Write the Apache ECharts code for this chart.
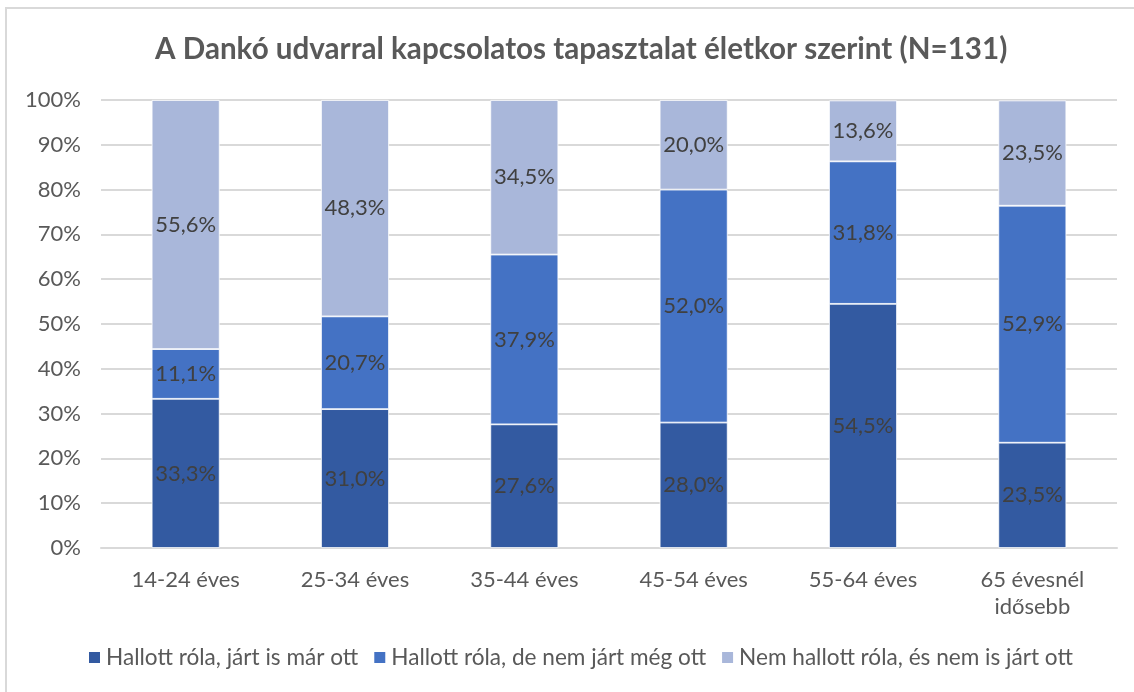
<!DOCTYPE html>
<html>
<head>
<meta charset="utf-8">
<script src="https://cdn.jsdelivr.net/npm/echarts@6/dist/echarts.min.js"></script>
<style>
    html, body { margin: 0; padding: 0; background: #fff; }
    #frame { position: absolute; left: 5px; top: 7px; width: 1140px; height: 700px;
             border-left: 2px solid #d9d9d9; border-top: 2px solid #d9d9d9; }
    #chart { position: absolute; left: 0; top: 0; width: 1134px; height: 692px; }
</style>
</head>
<body>
<div id="frame"></div>
<div id="chart"></div>
<script>
var categories = ['14-24 éves', '25-34 éves', '35-44 éves', '45-54 éves', '55-64 éves', '65 évesnél\nidősebb'];
var seriesNames = ['Hallott róla, járt is már ott', 'Hallott róla, de nem járt még ott', 'Nem hallott róla, és nem is járt ott'];
var jartOtt = [33.3, 31.0, 27.6, 28.0, 54.5, 23.5];
var nemJartMeg = [11.1, 20.7, 37.9, 52.0, 31.8, 52.9];
var nemHallott = [55.6, 48.3, 34.5, 20.0, 13.6, 23.5];
var yTicks = [0, 10, 20, 30, 40, 50, 60, 70, 80, 90, 100];

var colors = ['#335AA1', '#4472C4', '#A9B7DA'];
var font = 'Lato, "Open Sans", sans-serif';

window.onload = function () {
    var myChart = echarts.init(document.getElementById('chart'));

    function bar(name, data, color) {
        return {
            name: name,
            type: 'bar',
            stack: 'total',
            data: data,
            barWidth: 68,
            itemStyle: { color: color, borderColor: '#ffffff', borderWidth: 0.8 },
            label: {
                show: true,
                position: 'inside',
                color: '#404040',
                fontFamily: font,
                fontSize: 22,
                formatter: function (p) {
                    return p.value.toFixed(1).replace('.', ',') + '%';
                }
            }
        };
    }

    var option = {
        animation: false,
        color: colors,
        title: {
            text: 'A Dankó udvarral kapcsolatos tapasztalat életkor szerint (N=131)',
            left: 150,
            top: 29,
            textStyle: { fontFamily: font, fontSize: 29.6, fontWeight: 'bold', color: '#595959' }
        },
        legend: {
            bottom: 18,
            left: 82,
            itemWidth: 13,
            itemHeight: 13,
            itemGap: 14,
            icon: 'rect',
            textStyle: { fontFamily: font, fontSize: 22.6, color: '#595959' },
            data: seriesNames
        },
        grid: { left: 101, right: 17, top: 100, bottom: 144, containLabel: false },
        xAxis: {
            type: 'category',
            data: categories,
            axisLine: { lineStyle: { color: '#d9d9d9', width: 2 } },
            axisTick: { show: false },
            axisLabel: { fontFamily: font, fontSize: 22, color: '#595959', margin: 18, lineHeight: 27 }
        },
        yAxis: {
            type: 'value',
            min: yTicks[0],
            max: yTicks[yTicks.length - 1],
            interval: 10,
            axisLine: { show: false },
            axisTick: { show: false },
            splitLine: { lineStyle: { color: '#d9d9d9', width: 2 } },
            axisLabel: {
                fontFamily: font, fontSize: 22, color: '#595959', margin: 20,
                formatter: function (v) { return v + '%'; }
            }
        },
        series: [
            bar(seriesNames[0], jartOtt, colors[0]),
            bar(seriesNames[1], nemJartMeg, colors[1]),
            bar(seriesNames[2], nemHallott, colors[2])
        ]
    };

    option && myChart.setOption(option);
};
</script>
</body>
</html>
